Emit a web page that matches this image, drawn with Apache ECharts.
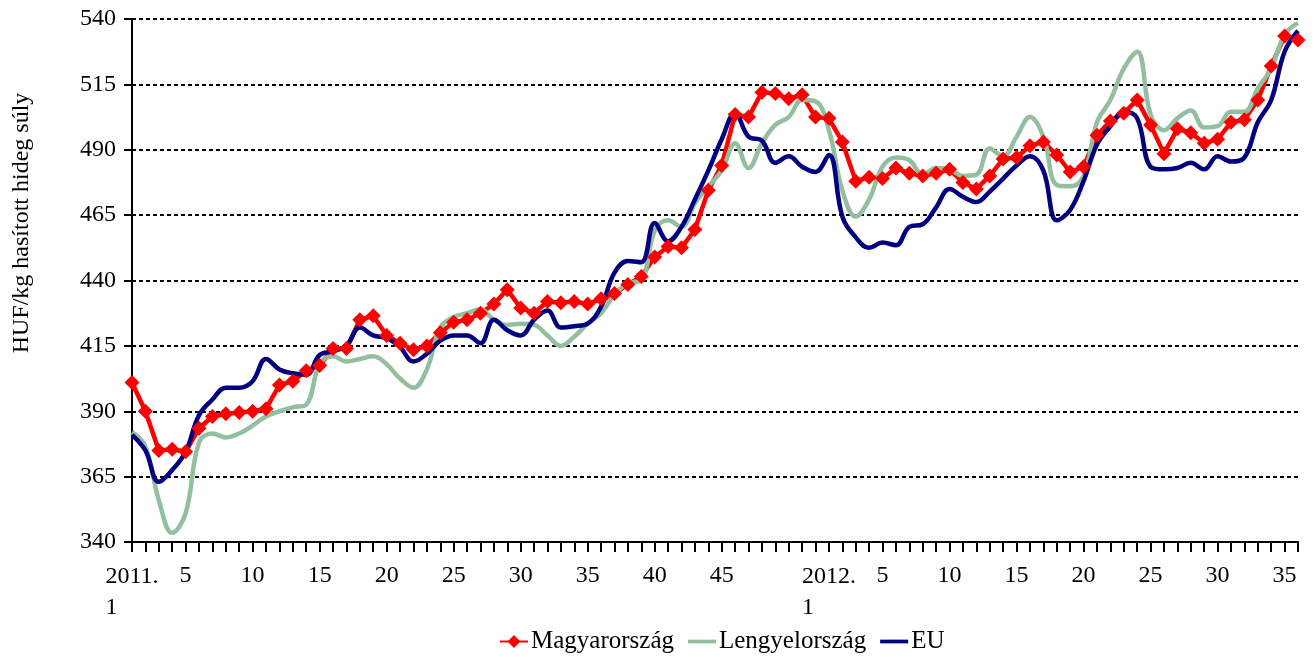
<!DOCTYPE html>
<html>
<head>
<meta charset="utf-8">
<script src="https://cdn.jsdelivr.net/npm/echarts@6/dist/echarts.min.js"></script>
<style>
  html, body { margin: 0; padding: 0; background: #fff; }
  #chart { width: 1314px; height: 657px; }
</style>
</head>
<body>
<div id="chart"></div>
<script>
// weeks: 2011 w1..w52, 2012 w1..w36
const weeks = [
  '2011. 1','2','3','4','5','6','7','8','9','10','11','12','13','14','15','16','17','18','19','20',
  '21','22','23','24','25','26','27','28','29','30','31','32','33','34','35','36','37','38','39','40',
  '41','42','43','44','45','46','47','48','49','50','51','52',
  '2012. 1','2','3','4','5','6','7','8','9','10','11','12','13','14','15','16','17','18','19','20',
  '21','22','23','24','25','26','27','28','29','30','31','32','33','34','35','36'
]
const tickLabels = ['2011. 1','5','10','15','20','25','30','35','40','45','2012. 1']

const magyarorszag = [
  401, 390, 375, 375.5, 374.5, 383.5, 388, 389, 389.5, 390, 391, 400, 401.5, 405.5, 407.5, 414, 414, 425, 426.5, 419,
  416, 413.5, 415, 420, 424, 425, 427.5, 431, 436.5, 429.5, 427.5, 432, 431.5, 432, 431, 433, 435, 438.5, 441.5, 449,
  453, 452.5, 459.5, 474.5, 484, 503.5, 502.5, 512, 511.5, 509.5, 511, 502.5,
  502, 493, 478, 479.5, 479, 483, 481, 480, 481, 482.5, 477.5, 475, 480, 486.5, 487, 491.5, 493, 488,
  481.5, 483.5, 495.5, 501, 504, 509, 499.5, 488.5, 498, 496.5, 492.5, 494, 500.5, 501.5, 509, 522, 533.5, 532
]
const lengyelorszag = [
  382, 376.5, 356, 343.5, 351, 378, 381.5, 380, 381.5, 384.5, 388, 390, 391.5, 392.5, 408, 411, 409, 410, 411, 408,
  402.5, 399, 406, 422, 426, 427.5, 429, 425, 423, 423.5, 423, 419, 415, 418.5, 423.5, 427.5, 434.5, 439, 440, 459,
  463, 460.5, 469.5, 476, 482, 492.5, 483, 492.5, 499.5, 502.5, 509, 508.5,
  497.5, 474.5, 464.5, 471, 483.5, 487, 486, 480.5, 483, 482.5, 480, 480.5, 490.5, 487.5, 495, 502.5, 495, 476.5,
  476, 480, 500.5, 509, 521, 527.5, 503.5, 497.5, 502, 505, 498.5, 499, 504.5, 504.5, 513.5, 521, 534, 538.5
]
const eu = [
  381, 375, 363, 367.5, 374.5, 388.5, 394.5, 399, 399, 401.5, 410, 406, 404.5, 404, 411.5, 413, 415, 422, 419, 418,
  414.5, 409, 412, 417, 419, 419, 416, 425, 421, 419, 425, 428.5, 422, 422.5, 423.5, 430, 443, 447.5, 447, 462,
  455, 460.5, 471, 482, 494, 504, 495, 493.5, 485, 487.5, 483.5, 481.5,
  488, 464.5, 456.5, 452.5, 454.5, 453.5, 460.5, 461.5, 468, 475, 472, 470, 474, 479, 484, 487.5, 482, 463,
  467, 478, 492, 499, 504.5, 502, 483.5, 482.5, 483, 485, 482.5, 487.5, 485.5, 487, 500.5, 509, 527.5, 535.5
]

const FONT = "'Liberation Serif', 'Times New Roman', serif"
// plain line icon for the legend (no marker)
const LINE_ICON = 'path://M0,0L30,0L30,4L0,4Z'

const chart = echarts.init(document.getElementById('chart'))
chart.setOption({
  animation: false,
  backgroundColor: '#fff',
  textStyle: { fontFamily: FONT, color: '#000' },
  grid: { left: 132, right: 16, top: 19, bottom: 115, outerBoundsMode: 'none' },
  graphic: [{
    type: 'text',
    x: 22,
    y: 223,
    rotation: Math.PI / 2,
    style: {
      text: 'HUF/kg hasított hideg súly',
      font: '24px ' + FONT,
      fill: '#000',
      align: 'center',
      verticalAlign: 'middle'
    }
  }],
  legend: {
    top: 624,
    left: 494,
    itemWidth: 28,
    itemHeight: 16,
    itemGap: 14,
    textStyle: { fontFamily: FONT, fontSize: 25, color: '#000', padding: [0, 0, 0, -2] },
    data: [
      { name: 'Magyarország' },
      { name: 'Lengyelország', icon: LINE_ICON },
      { name: 'EU', icon: LINE_ICON }
    ]
  },
  xAxis: {
    type: 'category',
    data: weeks,
    boundaryGap: false,
    axisLine: { lineStyle: { color: '#000', width: 2 } },
    axisTick: { show: true, interval: 0, length: 10, lineStyle: { color: '#000', width: 2 } },
    axisLabel: {
      interval: (i, v) => tickLabels.includes(v),
      margin: 19,
      fontFamily: FONT,
      fontSize: 24,
      color: '#000',
      lineHeight: 30,
      formatter: v => {
        if (v.indexOf('.') < 0) return v
        const p = v.split(' ')
        return '{y|' + p[0] + '}\n{w|' + p[1] + '}'
      },
      rich: {
        y: { fontFamily: FONT, fontSize: 24, lineHeight: 31, color: '#000' },
        w: { fontFamily: FONT, fontSize: 24, lineHeight: 31, color: '#000', width: 52, align: 'left' }
      }
    },
    splitLine: { show: false }
  },
  yAxis: {
    type: 'value',
    min: 340,
    max: 540,
    interval: 25,
    axisLine: { show: true, lineStyle: { color: '#000', width: 2 } },
    axisTick: { show: true, length: 8, lineStyle: { color: '#000', width: 2 } },
    axisLabel: { fontFamily: FONT, fontSize: 24, color: '#000', margin: 16 },
    splitLine: { show: true, lineStyle: { color: '#000', width: 2, type: [4, 3] } }
  },
  series: [
    {
      name: 'Magyarország',
      type: 'line',
      data: magyarorszag,
      symbol: 'diamond',
      symbolSize: 15,
      showAllSymbol: true,
      lineStyle: { color: '#ff0000', width: 4.5 },
      itemStyle: { color: '#ff0000' }
    },
    {
      name: 'Lengyelország',
      type: 'line',
      data: lengyelorszag,
      symbol: 'none',
      smooth: 0.4,
      lineStyle: { color: '#93bfa0', width: 4.5 },
      itemStyle: { color: '#93bfa0' }
    },
    {
      name: 'EU',
      type: 'line',
      data: eu,
      symbol: 'none',
      smooth: 0.4,
      lineStyle: { color: '#000080', width: 4.5 },
      itemStyle: { color: '#000080' }
    }
  ]
})
</script>
</body>
</html>
